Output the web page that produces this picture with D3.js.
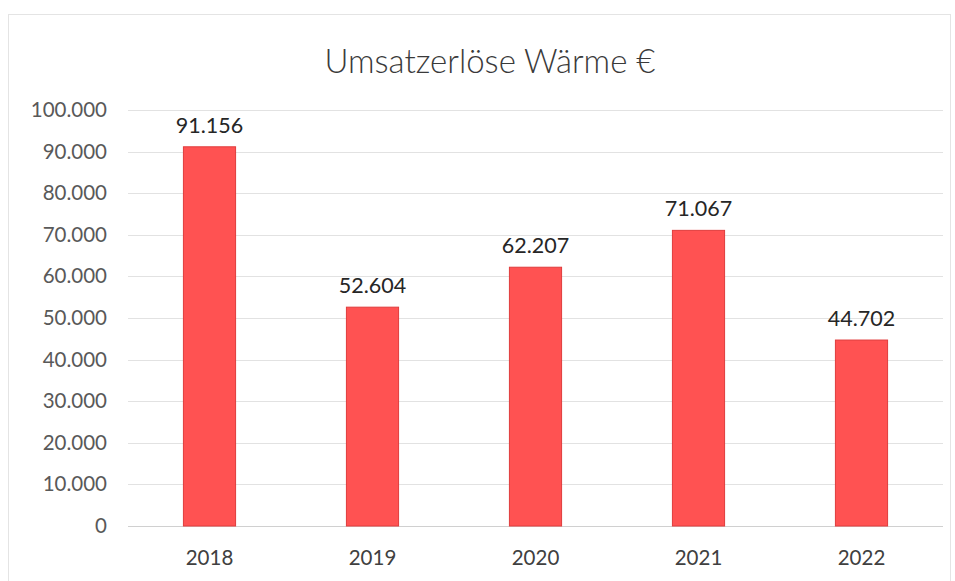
<!DOCTYPE html>
<html>
<head>
<meta charset="utf-8">
<script src="https://cdn.jsdelivr.net/npm/d3@7"></script>
<style>
  body { margin: 0; background: #fff; }
  svg { display: block; }
</style>
</head>
<body>
<div id="chart"></div>
<script>
// chart data
var years = ["2018", "2019", "2020", "2021", "2022"];
var values = [91156, 52604, 62207, 71067, 44702];
var yTicks = [0, 10000, 20000, 30000, 40000, 50000, 60000, 70000, 80000, 90000, 100000];

var width = 955, height = 581;
var margin = {top: 110, right: 12, bottom: 55, left: 128};

var svg = d3.select("#chart").append("svg")
    .attr("width", width)
    .attr("height", height);

// faint chart frame
svg.append("rect")
    .attr("x", 8.5).attr("y", 14.5)
    .attr("width", 942).attr("height", 580)
    .attr("fill", "none")
    .attr("stroke", "#e4e4e4");

var x = d3.scaleBand()
    .domain(years)
    .range([margin.left, width - margin.right])
    .paddingInner(0.68)
    .paddingOuter(0.34);

var y = d3.scaleLinear()
    .domain([0, 100000])
    .range([height - margin.bottom, margin.top]);

var fmt = function (d) { return d3.format(",")(d).replace(/,/g, "."); };

// gridlines
svg.append("g")
    .selectAll("line")
    .data(yTicks)
    .join("line")
    .attr("x1", margin.left)
    .attr("x2", width - margin.right)
    .attr("y1", function (d) { return Math.round(y(d)) + 0.5; })
    .attr("y2", function (d) { return Math.round(y(d)) + 0.5; })
    .attr("stroke", function (d) { return d === 0 ? "#d0d0d0" : "#e2e2e2"; })
    .attr("stroke-width", 1);

// y axis labels
var yAxis = d3.axisLeft(y).tickValues(yTicks).tickFormat(fmt).tickSize(0).tickPadding(0);
svg.append("g")
    .attr("transform", "translate(" + (margin.left - 21) + ",0)")
    .call(yAxis)
    .call(function (g) { g.select(".domain").remove(); })
    .selectAll("text")
    .style("font-family", "Lato, 'Open Sans', sans-serif")
    .style("font-size", "20.5px")
    .attr("fill", "#595959");

// x axis labels
var xAxis = d3.axisBottom(x).tickSize(0).tickPadding(0);
svg.append("g")
    .attr("transform", "translate(0," + (height - margin.bottom + 24) + ")")
    .call(xAxis)
    .call(function (g) { g.select(".domain").remove(); })
    .selectAll("text")
    .style("font-family", "Lato, 'Open Sans', sans-serif")
    .style("font-size", "20.5px")
    .attr("fill", "#404040");

// bars
svg.append("g")
    .selectAll("rect")
    .data(values)
    .join("rect")
    .attr("x", function (d, i) { return x(years[i]); })
    .attr("y", function (d) { return y(d); })
    .attr("width", x.bandwidth())
    .attr("height", function (d) { return y(0) - y(d); })
    .attr("fill", "#ff5252")
    .attr("stroke", "#e03c3c")
    .attr("stroke-width", 1);

// data labels
svg.append("g")
    .selectAll("text")
    .data(values)
    .join("text")
    .attr("x", function (d, i) { return x(years[i]) + x.bandwidth() / 2; })
    .attr("y", function (d) { return y(d) - 14; })
    .attr("text-anchor", "middle")
    .style("font-family", "Lato, 'Open Sans', sans-serif")
    .style("font-size", "21.5px")
    .attr("fill", "#262626")
    .text(fmt);

// title
svg.append("text")
    .attr("x", 490)
    .attr("y", 73)
    .attr("text-anchor", "middle")
    .style("font-family", "Lato, 'Open Sans', sans-serif")
    .style("font-weight", "300")
    .style("font-size", "33px")
    .attr("fill", "#3a3a3a")
    .text("Umsatzerlöse Wärme €");
</script>
</body>
</html>
